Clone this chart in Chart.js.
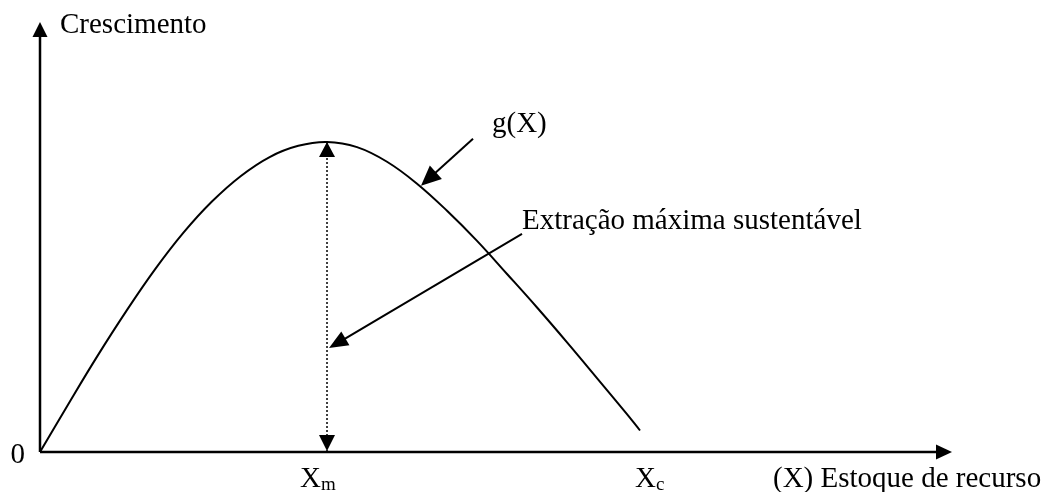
<!DOCTYPE html>
<html>
<head>
<meta charset="utf-8">
<script src="https://cdn.jsdelivr.net/npm/chart.js@4"></script>
<style>
  body { margin: 0; background: #fff; }
  #wrap { width: 1055px; height: 492px; }
</style>
</head>
<body>
<div id="wrap"><canvas id="growthChart" width="1055" height="492"></canvas></div>
<script>
// stock (x) and growth g(X), axis units 0..100
const stockX  = [0, 3.15, 6.29, 9.44, 12.59, 15.73, 18.88, 22.03, 25.18, 28.32, 31.47,
                 34.76, 38.05, 41.34, 44.63, 47.92, 51.21, 54.50, 57.79, 61.07, 64.36, 65.79];
const growthY = [0, 11.3, 22.3, 32.7, 42.4, 51.0, 58.3, 64.2, 68.6, 71.2, 72.1,
                 70.9, 67.5, 62.4, 56.1, 49.1, 41.4, 33.6, 25.5, 17.2, 8.8, 5.0];

// x tick labels (main letter + subscript) and where they sit
const tickMain = ['X', 'X'];
const tickSub = ['m', 'c'];
const tickValues = [31.47, 65.79];

const peakX = 31.47;
const peakY = 72.1;
const gPointIndex = 13;   // point on the curve the g(X) arrow touches
const msyPointerY = 24.2; // where the "Extração" arrow hits the dotted line

const FONT = '"Liberation Serif", "Times New Roman", serif';

const line = (ctx, x1, y1, x2, y2) => {
  ctx.beginPath();
  ctx.moveTo(x1, y1);
  ctx.lineTo(x2, y2);
  ctx.stroke();
};

// filled triangle with its tip at (tx,ty), pointing away from (fx,fy)
const head = (ctx, tx, ty, fx, fy, len, half) => {
  const ang = Math.atan2(ty - fy, tx - fx);
  const bx = tx - len * Math.cos(ang), by = ty - len * Math.sin(ang);
  ctx.beginPath();
  ctx.moveTo(tx, ty);
  ctx.lineTo(bx + half * Math.sin(ang), by - half * Math.cos(ang));
  ctx.lineTo(bx - half * Math.sin(ang), by + half * Math.cos(ang));
  ctx.closePath();
  ctx.fill();
};

const decorations = {
  id: 'decorations',
  afterDatasetsDraw(chart) {
    const { ctx, chartArea: a, scales: { x, y } } = chart;
    const x0 = x.getPixelForValue(0), y0 = y.getPixelForValue(0);
    ctx.save();
    ctx.strokeStyle = '#000';
    ctx.fillStyle = '#000';
    ctx.lineWidth = 2.5;

    // axes with arrows
    line(ctx, x0, y0, x0, a.top + 12);
    head(ctx, x0, a.top, x0, y0, 15, 7.5);
    line(ctx, x0, y0, a.right - 12, y0);
    head(ctx, a.right, y0, x0, y0, 16, 7.5);

    // arrowheads on the dotted line
    const xm = x.getPixelForValue(peakX), ypk = y.getPixelForValue(peakY);
    head(ctx, xm, ypk, xm, y0, 15, 8);
    head(ctx, xm, y0 - 1, xm, ypk, 16, 8);

    ctx.lineWidth = 2;
    // g(X) pointer
    const gx = x.getPixelForValue(stockX[gPointIndex]) + 4, gy = y.getPixelForValue(growthY[gPointIndex]) + 2;
    line(ctx, gx + 52, gy - 47, gx + 10, gy - 9);
    head(ctx, gx, gy, gx + 52, gy - 47, 20, 9);

    // Extração pointer
    const ex = xm + 2, ey = y.getPixelForValue(msyPointerY);
    line(ctx, ex + 193, ey - 114, ex + 14, ey - 8);
    head(ctx, ex, ey, ex + 193, ey - 114, 19, 8);

    // texts
    ctx.font = '29px ' + FONT;
    ctx.textBaseline = 'alphabetic';
    ctx.textAlign = 'left';
    ctx.fillText('Crescimento', x0 + 20, a.top + 11);
    ctx.fillText('g(X)', gx + 71, gy - 54);
    ctx.fillText('Extração máxima sustentável', ex + 193, ey - 119);
    ctx.fillText('(X) Estoque de recurso', 773, y0 + 35);
    ctx.textAlign = 'right';
    ctx.fillText('0', x0 - 15, y0 + 11);
    ctx.textAlign = 'left';

    const offs = [-27, -5];
    tickValues.forEach((v, i) => {
      const px = x.getPixelForValue(v) + offs[i];
      ctx.font = '29px ' + FONT;
      ctx.fillText(tickMain[i], px, y0 + 35);
      const w = ctx.measureText(tickMain[i]).width;
      ctx.font = '19px ' + FONT;
      ctx.fillText(tickSub[i], px + w, y0 + 38);
    });
    ctx.restore();
  }
};

new Chart(document.getElementById('growthChart'), {
  type: 'line',
  data: {
    datasets: [{
      data: stockX.map((v, i) => ({ x: v, y: growthY[i] })),
      borderColor: '#000',
      borderWidth: 2,
      pointRadius: 0,
      fill: false,
      tension: 0.4
    }, {
      data: [{ x: peakX, y: 0 }, { x: peakX, y: peakY }],
      borderColor: '#000',
      borderWidth: 1.5,
      borderDash: [2, 2],
      pointRadius: 0,
      fill: false
    }]
  },
  options: {
    responsive: false,
    animation: false,
    devicePixelRatio: 1,
    layout: { padding: { left: 40, top: 22, right: 103, bottom: 40 } },
    plugins: { legend: { display: false }, tooltip: { enabled: false } },
    scales: {
      x: { type: 'linear', min: 0, max: 100, display: false },
      y: { type: 'linear', min: 0, max: 100, display: false }
    }
  },
  plugins: [decorations]
});
</script>
</body>
</html>
